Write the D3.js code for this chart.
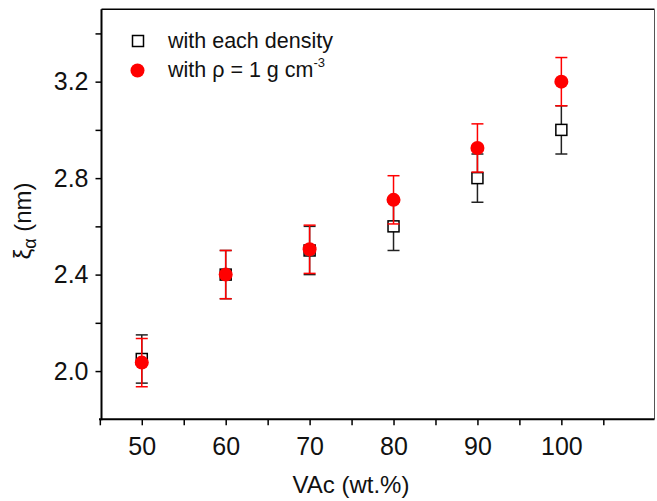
<!DOCTYPE html>
<html>
<head>
<meta charset="utf-8">
<script src="https://cdn.jsdelivr.net/npm/d3@7"></script>
<style>
  body { margin: 0; background: #fff; }
  text { font-family: "Liberation Sans", Arial, sans-serif; }
</style>
</head>
<body>
<div id="chart"></div>
<script>
// data
const vac = [50, 60, 70, 80, 90, 100];
const xiEach = [2.05, 2.4, 2.5, 2.6, 2.8, 3.0];
const errEach = [0.1, 0.1, 0.1, 0.1, 0.1, 0.1];
const xiRho1 = [2.035, 2.4, 2.505, 2.71, 2.925, 3.2];
const errRho1 = [0.1, 0.1, 0.1, 0.1, 0.1, 0.1];
const xTicks = [50, 60, 70, 80, 90, 100];
const xMinorTicks = [45, 55, 65, 75, 85, 95, 105];
const yTicks = [2.0, 2.4, 2.8, 3.2];
const yMinorTicks = [2.2, 2.6, 3.0, 3.4];

const width = 657, height = 501;
const svg = d3.select('#chart').append('svg')
  .attr('width', width)
  .attr('height', height);

const x = d3.scaleLinear().domain([45.2, 111.1]).range([101.5, 654.5]);
const y = d3.scaleLinear().domain([1.8, 3.5]).range([419.3, 9.3]);

// frame
svg.append('line').attr('x1', 101.5).attr('x2', 654.5).attr('y1', 9.3).attr('y2', 9.3)
  .attr('stroke', '#000').attr('stroke-width', 1.5);
svg.append('line').attr('x1', 654.5).attr('x2', 654.5).attr('y1', 9.3).attr('y2', 419.3)
  .attr('stroke', '#555').attr('stroke-width', 1);

// axes
const xAxis = d3.axisBottom(x).tickValues(xTicks).tickSize(6).tickPadding(12).tickFormat(d3.format('d'));
const xMinor = d3.axisBottom(x).tickValues(xMinorTicks).tickSize(6).tickFormat('');
const yAxis = d3.axisLeft(y).tickValues(yTicks).tickSize(6).tickPadding(7).tickFormat(d3.format('.1f'));
const yMinor = d3.axisLeft(y).tickValues(yMinorTicks).tickSize(6).tickFormat('');

const gx = svg.append('g').attr('transform', 'translate(0,419.3)').call(xAxis);
svg.append('g').attr('transform', 'translate(0,419.3)').call(xMinor).select('.domain').remove();
const gy = svg.append('g').attr('transform', 'translate(101.5,0)').call(yAxis);
svg.append('g').attr('transform', 'translate(101.5,0)').call(yMinor).select('.domain').remove();

[gx, gy].forEach(g => {
  g.select('.domain').remove();
  g.selectAll('.tick text').attr('font-size', 25).attr('fill', '#111');
});
svg.selectAll('.tick line').attr('stroke-width', 1.5);
svg.append('line').attr('x1', 99).attr('x2', 654.5).attr('y1', 419.3).attr('y2', 419.3)
  .attr('stroke', '#000').attr('stroke-width', 2);
svg.append('line').attr('x1', 101.5).attr('x2', 101.5).attr('y1', 9.3).attr('y2', 420.3)
  .attr('stroke', '#000').attr('stroke-width', 2);

// axis titles
svg.append('text').attr('x', 351).attr('y', 493).attr('text-anchor', 'middle')
  .attr('font-size', 24).attr('fill', '#111').text('VAc (wt.%)');
const yl = svg.append('text').attr('transform', 'translate(31,221) rotate(-90)')
  .attr('text-anchor', 'middle').attr('font-size', 24).attr('fill', '#111');
yl.append('tspan').text('ξ');
yl.append('tspan').attr('font-size', 18).attr('dy', 5).text('α');
yl.append('tspan').attr('dy', -5).text(' (nm)');

// series drawing
function errorBars(vals, errs, color) {
  const g = svg.append('g').attr('stroke', color).attr('stroke-width', 1.5);
  vac.forEach((v, i) => {
    const cx = x(v), top = y(vals[i] + errs[i]), bot = y(vals[i] - errs[i]);
    g.append('line').attr('x1', cx).attr('x2', cx).attr('y1', top).attr('y2', bot);
    g.append('line').attr('x1', cx - 6).attr('x2', cx + 6).attr('y1', top).attr('y2', top);
    g.append('line').attr('x1', cx - 6).attr('x2', cx + 6).attr('y1', bot).attr('y2', bot);
  });
}

errorBars(xiEach, errEach, '#222');
svg.append('g').selectAll('rect').data(vac).join('rect')
  .attr('x', (d) => x(d) - 5.5)
  .attr('y', (d, i) => y(xiEach[i]) - 5.5)
  .attr('width', 11).attr('height', 11)
  .attr('fill', '#fff').attr('stroke', '#000').attr('stroke-width', 1.5);

errorBars(xiRho1, errRho1, '#f00');
svg.append('g').selectAll('circle').data(vac).join('circle')
  .attr('cx', (d) => x(d))
  .attr('cy', (d, i) => y(xiRho1[i]))
  .attr('r', 7)
  .attr('fill', '#f00');

// legend
svg.append('rect').attr('x', 132.5).attr('y', 35.5).attr('width', 11).attr('height', 11)
  .attr('fill', '#fff').attr('stroke', '#000').attr('stroke-width', 1.5);
svg.append('circle').attr('cx', 137.5).attr('cy', 70.5).attr('r', 7).attr('fill', '#f00');
svg.append('text').attr('x', 168).attr('y', 48).attr('font-size', 21.5).attr('fill', '#111')
  .text('with each density');
const l2 = svg.append('text').attr('x', 168).attr('y', 77).attr('font-size', 21.5).attr('fill', '#111');
l2.append('tspan').text('with ρ = 1 g cm');
l2.append('tspan').attr('font-size', 13).attr('dy', -10).text('-3');
</script>
</body>
</html>
